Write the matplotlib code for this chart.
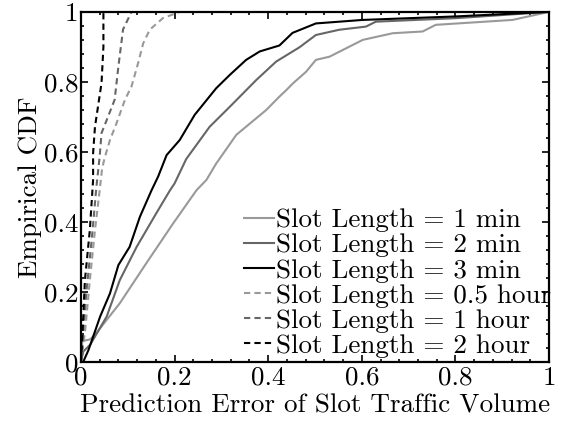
import matplotlib
matplotlib.use("Agg")
import matplotlib.pyplot as plt
from matplotlib.ticker import MultipleLocator, FixedLocator, FixedFormatter

plt.rcParams['font.family'] = 'serif'
plt.rcParams['font.serif'] = ['cmr10']
plt.rcParams['mathtext.fontset'] = 'cm'
plt.rcParams['axes.formatter.use_mathtext'] = True

# ---- data ----
labels = ["Slot Length = 1 min", "Slot Length = 2 min", "Slot Length = 3 min",
          "Slot Length = 0.5 hour", "Slot Length = 1 hour", "Slot Length = 2 hour"]

min1_x = [0, 0.003, 0.02, 0.033, 0.083, 0.14, 0.197, 0.247, 0.268, 0.289, 0.332, 0.396,
          0.424, 0.439, 0.453, 0.481, 0.502, 0.531, 0.602, 0.666, 0.73, 0.758, 0.922, 1.0]
min1_y = [0, 0.06, 0.065, 0.083, 0.168, 0.283, 0.396, 0.491, 0.52, 0.567, 0.649, 0.72,
          0.758, 0.777, 0.796, 0.829, 0.863, 0.872, 0.92, 0.939, 0.944, 0.963, 0.977, 1.0]

min2_x = [0, 0.005, 0.02, 0.055, 0.083, 0.119, 0.161, 0.19, 0.2, 0.225, 0.275, 0.318,
          0.375, 0.417, 0.467, 0.502, 0.552, 0.609, 0.63, 0.801, 1.0]
min2_y = [0, 0.03, 0.05, 0.13, 0.234, 0.329, 0.425, 0.49, 0.51, 0.58, 0.672, 0.729,
          0.806, 0.858, 0.899, 0.934, 0.949, 0.958, 0.972, 0.982, 1.0]

min3_x = [0, 0.005, 0.016, 0.041, 0.062, 0.08, 0.104, 0.126, 0.151, 0.165, 0.183, 0.211,
          0.243, 0.289, 0.318, 0.353, 0.382, 0.424, 0.452, 0.502, 0.602, 0.801, 1.0]
min3_y = [0, 0.001, 0.034, 0.13, 0.196, 0.277, 0.329, 0.415, 0.491, 0.53, 0.591, 0.634,
          0.706, 0.782, 0.82, 0.863, 0.887, 0.904, 0.94, 0.967, 0.977, 0.987, 1.0]

h05_x = [0, 0.009, 0.019, 0.03, 0.04, 0.045, 0.05, 0.062, 0.076, 0.094, 0.108, 0.122,
         0.133, 0.147, 0.175, 0.211]
h05_y = [0, 0.09, 0.234, 0.377, 0.49, 0.55, 0.58, 0.634, 0.682, 0.749, 0.787, 0.853,
         0.91, 0.949, 0.982, 1.0]

h1_x = [0, 0.005, 0.012, 0.023, 0.033, 0.04, 0.044, 0.055, 0.072, 0.08, 0.09, 0.108]
h1_y = [0, 0.09, 0.206, 0.349, 0.5, 0.587, 0.654, 0.691, 0.749, 0.844, 0.95, 1.0]

h2_x = [0, 0.0036, 0.0085, 0.019, 0.026, 0.026, 0.03, 0.044, 0.048, 0.048]
h2_y = [0, 0.09, 0.234, 0.377, 0.52, 0.597, 0.672, 0.797, 0.9, 1.0]

tick_vals = [0, 0.2, 0.4, 0.6, 0.8, 1]
tick_labels = ["0", "0.2", "0.4", "0.6", "0.8", "1"]

# ---- figure ----
fs = 19.5
fig = plt.figure(figsize=(5.66, 4.24), dpi=100)
ax = fig.add_axes([0.143, 0.146, 0.827, 0.826])

light, mid, dark = (0.6, 0.6, 0.6), (0.4, 0.4, 0.4), (0, 0, 0)
dash = (0, (3, 2))
lw = 1.5
ax.plot(min1_x, min1_y, color=light, lw=lw, label=labels[0])
ax.plot(min2_x, min2_y, color=mid, lw=lw, label=labels[1])
ax.plot(min3_x, min3_y, color=dark, lw=lw, label=labels[2])
ax.plot(h05_x, h05_y, color=light, lw=lw, ls=dash, label=labels[3])
ax.plot(h1_x, h1_y, color=mid, lw=lw, ls=dash, label=labels[4])
ax.plot(h2_x, h2_y, color=dark, lw=lw, ls=dash, label=labels[5])

ax.set_xlim(0, 1)
ax.set_ylim(0, 1)
ax.xaxis.set_major_locator(FixedLocator(tick_vals))
ax.xaxis.set_major_formatter(FixedFormatter(tick_labels))
ax.yaxis.set_major_locator(FixedLocator(tick_vals))
ax.yaxis.set_major_formatter(FixedFormatter(tick_labels))
ax.xaxis.set_minor_locator(MultipleLocator(0.04))
ax.yaxis.set_minor_locator(MultipleLocator(0.04))
ax.tick_params(which='both', direction='in', top=True, right=True, width=1.2,
               labelsize=fs)
ax.tick_params(axis='x', pad=3)
ax.tick_params(axis='y', pad=2)
ax.tick_params(which='major', length=5)
ax.tick_params(which='minor', length=2.5)
for s in ax.spines.values():
    s.set_linewidth(1.6)

ax.set_xlabel("Prediction Error of Slot Traffic Volume", fontsize=fs, labelpad=3)
ax.set_ylabel("Empirical CDF", fontsize=fs, labelpad=1)

ax.legend(loc='lower right', bbox_to_anchor=(1.01, 0.005), frameon=False, fontsize=fs,
          handlelength=1.1, handletextpad=0.08, labelspacing=0.04, borderaxespad=0.0,
          borderpad=0.1)

fig.savefig("out.png", dpi=100)
